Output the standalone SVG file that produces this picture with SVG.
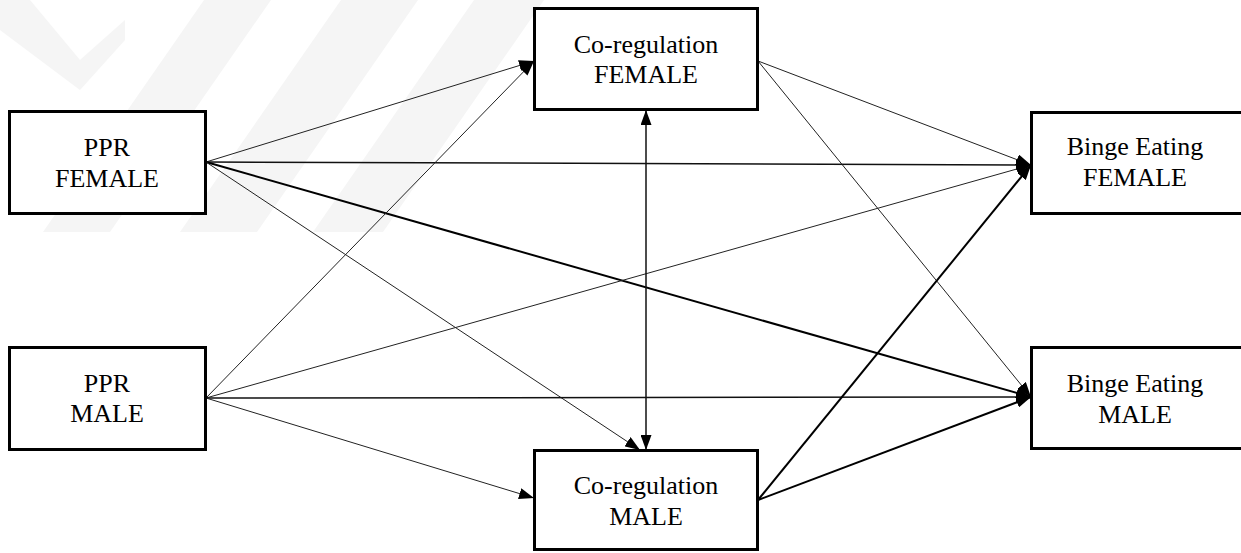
<svg xmlns="http://www.w3.org/2000/svg" width="1241" height="553" viewBox="0 0 1241 553">
<style>
.box{fill:#fff;stroke:#000;stroke-width:3}
.lbl{font-family:"Liberation Serif","Times New Roman",serif;font-size:26px;fill:#000;text-anchor:middle}
.thin{stroke:#222;stroke-width:1;fill:none;marker-end:url(#ah)}
.mid{stroke:#111;stroke-width:1.5;fill:none;marker-end:url(#ah)}
.thick{stroke:#000;stroke-width:2;fill:none;marker-end:url(#ah)}
.wm{fill:#f5f5f5}
</style>
<defs>
<marker id="ah" viewBox="0 0 15 11" refX="15" refY="5.5" markerWidth="15" markerHeight="11" markerUnits="userSpaceOnUse" orient="auto-start-reverse">
<path d="M0,0 L15,5.5 L0,11 z" fill="#000"/>
</marker>
</defs>
<rect width="1241" height="553" fill="#fff"/>
<g id="watermark">
<polygon class="wm" points="0,0 30,0 80,60 125,20 125,40 80,90 0,30"/>
<polygon class="wm" points="43,232 110,232 271,0 204,0"/>
<polygon class="wm" points="180,232 257,232 418,0 341,0"/>
<polygon class="wm" points="313,232 383,232 544,0 474,0"/>
</g>
<g id="connectors">
<line class="thin" x1="206" y1="162" x2="534" y2="61"/>
<line class="mid" x1="206" y1="162" x2="1031" y2="165"/>
<line class="thick" x1="206" y1="162" x2="1031" y2="397"/>
<line class="thin" x1="206" y1="162" x2="640" y2="450"/>
<line class="thin" x1="206" y1="398" x2="534" y2="61"/>
<line class="thin" x1="206" y1="398" x2="1031" y2="165"/>
<line class="mid" x1="206" y1="398" x2="1031" y2="397"/>
<line class="thin" x1="206" y1="398" x2="534" y2="498"/>
<line class="thin" x1="758" y1="61" x2="1031" y2="165"/>
<line class="thin" x1="758" y1="61" x2="1031" y2="397"/>
<line class="thick" x1="758" y1="500" x2="1031" y2="165"/>
<line class="thick" x1="758" y1="500" x2="1031" y2="397"/>
<line class="mid" x1="646" y1="110" x2="646" y2="450" marker-start="url(#ah)"/>
</g>
<g id="ppr-female">
<rect class="box" x="9.5" y="111.5" width="196" height="102"/>
<text class="lbl" x="107" y="156">PPR</text>
<text class="lbl" x="107" y="187">FEMALE</text>
</g>
<g id="ppr-male">
<rect class="box" x="9.5" y="347.5" width="196" height="102"/>
<text class="lbl" x="107" y="392">PPR</text>
<text class="lbl" x="107" y="422">MALE</text>
</g>
<g id="coreg-female">
<rect class="box" x="534.5" y="8.5" width="223" height="101"/>
<text class="lbl" x="646" y="53">Co-regulation</text>
<text class="lbl" x="646" y="83">FEMALE</text>
</g>
<g id="coreg-male">
<rect class="box" x="534.5" y="450.5" width="223" height="99"/>
<text class="lbl" x="646" y="494">Co-regulation</text>
<text class="lbl" x="646" y="525">MALE</text>
</g>
<g id="binge-female">
<rect class="box" x="1031.5" y="112.5" width="220" height="101"/>
<text class="lbl" x="1135" y="155">Binge Eating</text>
<text class="lbl" x="1135" y="186">FEMALE</text>
</g>
<g id="binge-male">
<rect class="box" x="1031.5" y="347.5" width="220" height="101"/>
<text class="lbl" x="1135" y="392">Binge Eating</text>
<text class="lbl" x="1135" y="423">MALE</text>
</g>
</svg>
